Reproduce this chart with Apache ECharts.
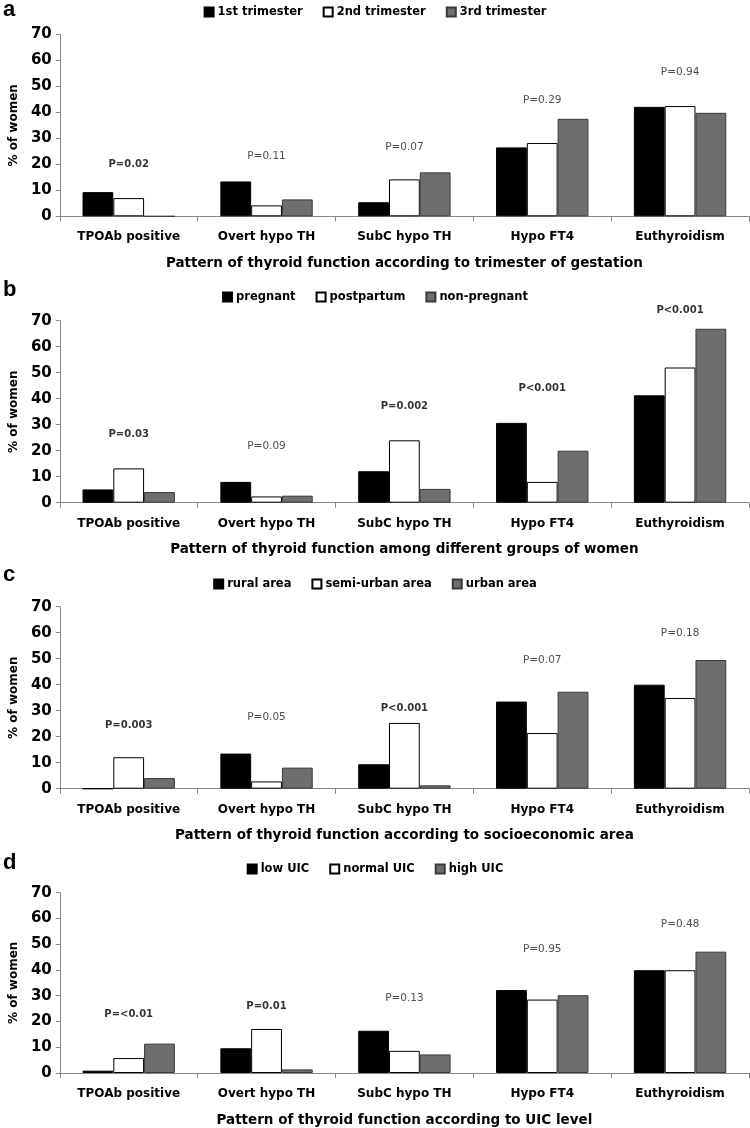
<!DOCTYPE html>
<html>
<head>
<meta charset="utf-8">
<script src="https://cdn.jsdelivr.net/npm/echarts@6/dist/echarts.min.js"></script>
<style>
  html, body { margin: 0; padding: 0; background: #fff; }
  #chart { width: 750px; height: 1128px; }
</style>
</head>
<body>
<div id="chart"></div>
<script>
const categories = ['TPOAb positive', 'Overt hypo TH', 'SubC hypo TH', 'Hypo FT4', 'Euthyroidism'];
const yTicks = [0, 10, 20, 30, 40, 50, 60, 70];

// Panel a
const namesA = ['1st trimester', '2nd trimester', '3rd trimester'];
const a1 = [9.3, 13.4, 5.4, 26.5, 42.1];
const a2 = [7.0, 4.2, 14.2, 28.2, 42.4];
const a3 = [0, 6.5, 16.9, 37.5, 39.8];
const pTextA = ['P=0.02', 'P=0.11', 'P=0.07', 'P=0.29', 'P=0.94'];
const pYA = [19.8, 23.0, 26.5, 44.8, 55.3];
const pBoldA = [1, 0, 0, 0, 0];
const titleA = 'Pattern of thyroid function according to trimester of gestation';

// Panel b
const namesB = ['pregnant', 'postpartum', 'non-pregnant'];
const b1 = [5.1, 8.0, 12.1, 30.7, 41.3];
const b2 = [13.2, 2.4, 24.0, 8.0, 52.0];
const b3 = [4.1, 2.7, 5.3, 20.0, 66.9];
const pTextB = ['P=0.03', 'P=0.09', 'P=0.002', 'P<0.001', 'P<0.001'];
const pYB = [26.3, 21.8, 36.9, 43.9, 73.8];
const pBoldB = [1, 0, 1, 1, 1];
const titleB = 'Pattern of thyroid function among different groups of women';

// Panel c
const namesC = ['rural area', 'semi-urban area', 'urban area'];
const c1 = [0, 13.5, 9.4, 33.5, 40.0];
const c2 = [12.1, 2.8, 25.3, 21.4, 34.9];
const c3 = [4.1, 8.1, 1.3, 37.3, 49.5];
const pTextC = ['P=0.003', 'P=0.05', 'P<0.001', 'P=0.07', 'P=0.18'];
const pYC = [24.2, 27.3, 30.9, 49.5, 59.7];
const pBoldC = [1, 0, 1, 0, 0];
const titleC = 'Pattern of thyroid function according to socioeconomic area';

// Panel d
const namesD = ['low UIC', 'normal UIC', 'high UIC'];
const d1 = [0.9, 9.6, 16.4, 32.2, 39.9];
const d2 = [5.8, 17.1, 8.6, 28.5, 39.9];
const d3 = [11.4, 1.4, 7.2, 30.2, 47.1];
const pTextD = ['P=<0.01', 'P=0.01', 'P=0.13', 'P=0.95', 'P=0.48'];
const pYD = [22.9, 25.7, 29.2, 47.9, 57.9];
const pBoldD = [1, 1, 0, 0, 0];
const titleD = 'Pattern of thyroid function according to UIC level';

const panelLetters = ['a', 'b', 'c', 'd'];

const panels = [
  { names: namesA, vals: [a1, a2, a3], pText: pTextA, pY: pYA, pBold: pBoldA, title: titleA },
  { names: namesB, vals: [b1, b2, b3], pText: pTextB, pY: pYB, pBold: pBoldB, title: titleB },
  { names: namesC, vals: [c1, c2, c3], pText: pTextC, pY: pYC, pBold: pBoldC, title: titleC },
  { names: namesD, vals: [d1, d2, d3], pText: pTextD, pY: pYD, pBold: pBoldD, title: titleD }
];

// layout
const FONT = '"DejaVu Sans", sans-serif';
const gridTops = [34.3, 320.7, 606.7, 892.7];
const gridH = 182;
const legendTops = [1, 286, 573, 858];
const letterY = [10, 290, 575, 863];
const fills = ['#000000', '#ffffff', '#6e6e6e'];
const borders = ['#000000', '#000000', '#3a3a3a'];
const axisGray = '#888888';

const grid = [], xAxis = [], yAxis = [], legend = [], series = [], graphic = [];

panels.forEach((p, i) => {
  grid.push({ left: 55, width: 694, top: gridTops[i], height: gridH, containLabel: false });
  xAxis.push({
    type: 'category', gridIndex: i, data: categories,
    axisLine: { show: true, lineStyle: { color: axisGray, width: 1 } },
    axisTick: { show: true, length: 5, lineStyle: { color: axisGray } },
    axisLabel: { color: '#000', fontFamily: FONT, fontWeight: 'bold', fontSize: 12, margin: 15 },
    name: p.title, nameLocation: 'middle', nameGap: 40,
    nameTextStyle: { color: '#000', fontFamily: FONT, fontWeight: 'bold', fontSize: 13.5 }
  });
  yAxis.push({
    type: 'value', gridIndex: i, min: 0, max: 70, interval: 10,
    axisLine: { show: true, lineStyle: { color: axisGray, width: 1 } },
    axisTick: { show: true, length: 4, lineStyle: { color: axisGray } },
    splitLine: { show: false },
    axisLabel: { color: '#000', fontFamily: FONT, fontWeight: 'bold', fontSize: 15, margin: 8,
      formatter: v => (yTicks.indexOf(v) >= 0 ? String(v) : '') },
    name: '% of women', nameLocation: 'middle', nameGap: 35, nameRotate: 90,
    nameTextStyle: { color: '#000', fontFamily: FONT, fontWeight: 'bold', fontSize: 12 }
  });
  legend.push({
    top: legendTops[i], left: 'center', itemWidth: 9, itemHeight: 9, itemGap: 20,
    icon: 'rect', data: p.names, selectedMode: false,
    textStyle: { color: '#000', fontFamily: FONT, fontWeight: 'bold', fontSize: 11.5, padding: [0, 0, 0, -1] }
  });
  p.vals.forEach((arr, k) => {
    series.push({
      type: 'bar', name: p.names[k], xAxisIndex: i, yAxisIndex: i, data: arr,
      barGap: '0%', barCategoryGap: '33%',
      itemStyle: { color: fills[k], borderColor: borders[k], borderWidth: 1 },
      emphasis: { disabled: true }, animation: false
    });
  });
  series.push({
    type: 'scatter', xAxisIndex: i, yAxisIndex: i, clip: false, silent: true,
    symbolSize: 1, itemStyle: { color: 'rgba(0,0,0,0)' },
    data: p.pY.map((y, j) => ({
      value: [j, y],
      label: {
        show: true, position: 'inside', formatter: p.pText[j],
        color: p.pBold[j] ? '#000' : '#222', fontFamily: FONT,
        fontSize: p.pBold[j] ? 10 : 10.5,
        fontWeight: p.pBold[j] ? 'bold' : 'normal'
      }
    })),
    animation: false
  });
  graphic.push({
    type: 'text', left: 3, top: letterY[i] - 11,
    style: { text: panelLetters[i], font: 'bold 22px "Liberation Sans", Arial, sans-serif', fill: '#000' }
  });
});

const chart = echarts.init(document.getElementById('chart'), null, { renderer: 'canvas' });
chart.setOption({
  backgroundColor: '#fff',
  animation: false,
  grid, xAxis, yAxis, legend, series, graphic
});
</script>
</body>
</html>
